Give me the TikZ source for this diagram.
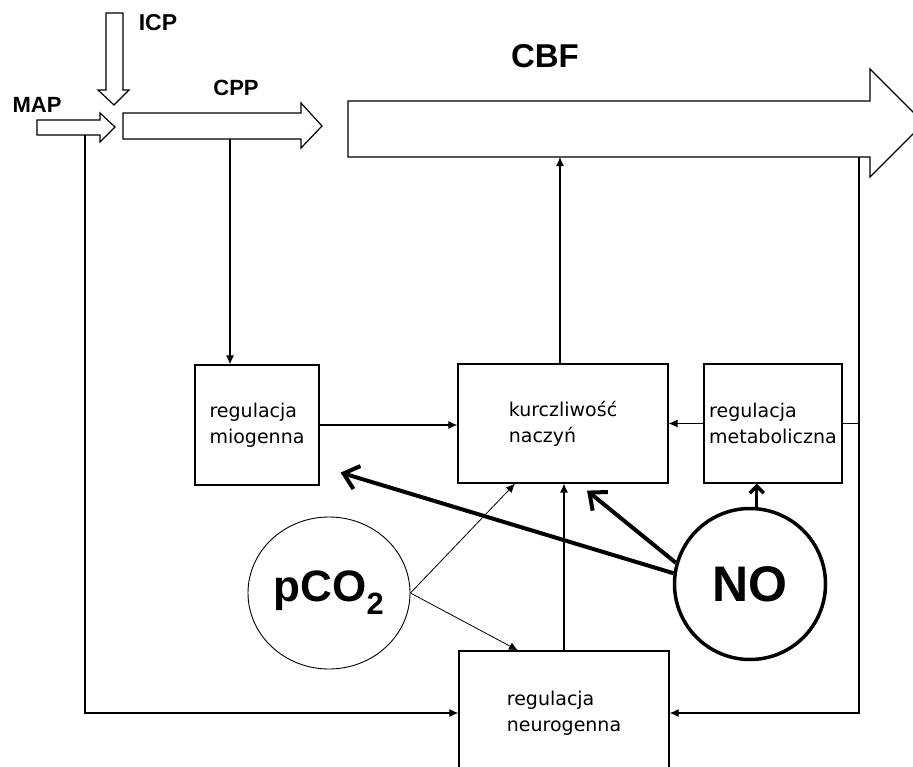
\documentclass[tikz,border=0pt]{standalone}
\usepackage{fontspec}
\setmainfont{DejaVu Sans}
\newfontfamily\labelfont{Liberation Sans}
\usetikzlibrary{positioning,arrows.meta,shapes.geometric}

\begin{document}
\begin{tikzpicture}[
  x=1pt,y=-1pt,
  every node/.style={font=\fontsize{19}{26}\selectfont},
  box/.style={draw,line width=1.2pt,align=left,inner sep=0pt},
  lbl/.style={font=\labelfont\bfseries\fontsize{22}{24}\selectfont,inner sep=0pt},
  blockarrow/.style={draw,fill=white,line width=1.2pt,line join=miter},
  conn/.style={line width=1.1pt,-{Latex[length=9pt,width=8pt]}},
  thinconn/.style={line width=0.8pt,-{Latex[length=9pt,width=8pt]}},
  noconn/.style={line width=4pt,-{Straight Barb[length=14pt,width=24pt,line width=4pt]}},
  noshort/.style={line width=3.5pt,-{Straight Barb[length=7pt,width=14pt,line width=3.5pt]}}
]
\useasboundingbox (0,0) rectangle (913,766);
\clip (0,0) rectangle (913,766);

% ciśnienia i przepływ
\draw[blockarrow] (106,13) -- (123,13) -- (123,90) -- (129,90) -- (114,105) -- (98,90) -- (106,90) -- cycle;
\draw[blockarrow] (37,120) -- (100,120) -- (100,113) -- (115,127) -- (100,142) -- (100,135) -- (37,135) -- cycle;
\draw[blockarrow] (123,113) -- (301,113) -- (301,103) -- (322,126) -- (301,148) -- (301,139) -- (123,139) -- cycle;
\draw[blockarrow] (348,101) -- (870,101) -- (870,69) -- (924,123) -- (870,177) -- (870,157) -- (348,157) -- cycle;

\node[lbl,font=\labelfont\bfseries\fontsize{23}{24}\selectfont] (icp) at (158,23) {ICP};
\node[lbl] (map) at (37,105) {MAP};
\node[lbl] (cpp) at (236,88) {CPP};
\node[lbl,font=\labelfont\bfseries\fontsize{33}{34}\selectfont] (cbf) at (545,56) {CBF};

\coordinate (mapout) at (85,135);
\coordinate (cppout) at (230,139);
\coordinate (cbfout) at (859,157);

% bloki regulacji
\node[box,minimum width=124pt,minimum height=120pt] (mio) at (257,425) {regulacja\\miogenna};
\node[box,minimum width=210pt,minimum height=119pt] (kur) at (563,423.5) {kurczliwość\\naczyń};
\node[box,minimum width=138pt,minimum height=119pt] (met) at (773,423.5) {regulacja\\metaboliczna};
\node[box,minimum width=210pt,minimum height=124pt] (neu) at (564,713) {regulacja\\neurogenna};

% czynniki
\node[draw,ellipse,line width=0.9pt,minimum width=162pt,minimum height=152pt,inner sep=0pt,
  font=\labelfont\bfseries\fontsize{44}{48}\selectfont] (pco) at (329,593) {pCO\textsubscript{2}};
\node[draw,circle,line width=3.5pt,minimum size=151pt,inner sep=0pt,
  font=\labelfont\bfseries\fontsize{50}{52}\selectfont] (no) at (750,584) {NO};

% połączenia
\draw[conn] (cppout) -- (cppout |- mio.north);
\draw[conn] (mapout) |- (neu.west);
\draw[conn] (cbfout) |- (neu.east);
\draw[line width=1.1pt] (met.east) -- (met.east -| cbfout);
\draw[conn] ([xshift=-3pt]kur.north) -- ([xshift=-3pt]kur.north |- cbfout);
\draw[conn] (mio.east) -- (mio.east -| kur.west);
\draw[conn] (met.west) -- (kur.east);
\draw[conn] (neu.north) -- (neu.north |- kur.south);

\draw[thinconn] (pco.east) -- ([xshift=-48pt]kur.south);
\draw[thinconn] (pco.east) -- ([xshift=-46pt]neu.north);

\draw[noconn] (no.172) -- ([xshift=21pt,yshift=13pt]mio.south east);
\draw[noconn] (no.164) -- ([xshift=24pt,yshift=-7pt]kur.south);
\draw[noshort] (no.85) -- (no.85 |- met.south);

\end{tikzpicture}
\end{document}
